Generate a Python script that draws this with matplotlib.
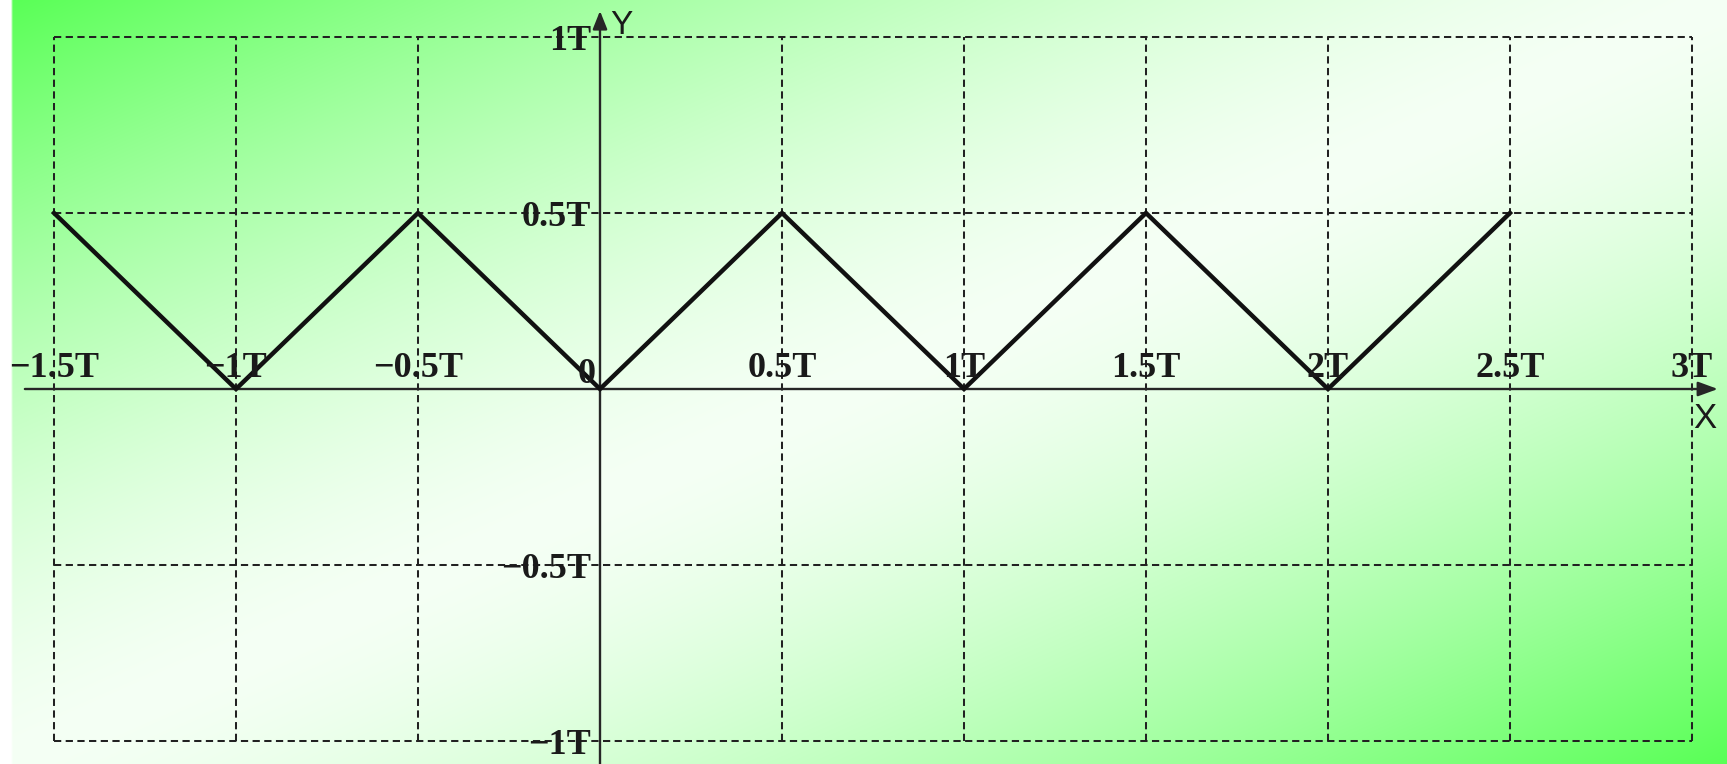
import numpy as np
import matplotlib
matplotlib.use("Agg")
import matplotlib.pyplot as plt

# ---- data ----
wave_x = [-1.5, -1.0, -0.5, 0.0, 0.5, 1.0, 1.5, 2.0, 2.5]
wave_y = [0.5, 0.0, 0.5, 0.0, 0.5, 0.0, 0.5, 0.0, 0.5]
grid_x = [-1.5, -1.0, -0.5, 0.5, 1.0, 1.5, 2.0, 2.5, 3.0]
grid_y = [-1.0, -0.5, 0.5, 1.0]
x_tick_vals = [-1.5, -1.0, -0.5, 0.5, 1.0, 1.5, 2.0, 2.5, 3.0]
x_tick_labels = ["\u22121.5T", "\u22121T", "\u22120.5T", "0.5T", "1T", "1.5T", "2T", "2.5T", "3T"]
y_tick_vals = [1.0, 0.5, -0.5, -1.0]
y_tick_labels = ["1T", "0.5T", "\u22120.5T", "\u22121T"]

W, H, DPI = 1727, 764, 100
fig = plt.figure(figsize=(W / DPI, H / DPI), dpi=DPI)

# ---- background gradient (green corners, white middle) ----
bg = fig.add_axes([0, 0, 1, 1], zorder=0)
bg.set_axis_off()
yy, xx = np.mgrid[0:H:2, 0:W:2]
u = xx / W + yy / H            # 0 top-left .. 2 bottom-right
f = np.clip(np.abs(u - 1.0), 0, 1) ** 1.5
green = np.array([88, 255, 85]) / 255.0
img = 1 - (0.06 + 0.94 * f[..., None]) * (1 - green[None, None, :])
img[:, : 11 // 2 + 1, :] = 1.0  # thin white strip on left edge
bg.imshow(img, extent=[0, 1, 0, 1], aspect="auto", origin="upper", interpolation="bilinear")
bg.set_xlim(0, 1); bg.set_ylim(0, 1)

# ---- main axes ----
ax = fig.add_axes([0, 0, 1, 1], zorder=1)
ax.patch.set_alpha(0)
ax.set_axis_off()
px_x = 364.0
px_y = 352.0
x0_px, y0_px = 600.0, 389.0
ax.set_xlim(-x0_px / px_x, (W - x0_px) / px_x)
ax.set_ylim(-(H - y0_px) / px_y, y0_px / px_y)

gcol = "#222222"
dash = (3.6, 2.2)
for gx in grid_x:
    ax.plot([gx, gx], [min(grid_y), max(grid_y)], color=gcol, lw=1.45,
            linestyle=(0, dash), zorder=2)
for gy in grid_y:
    ax.plot([min(grid_x), max(grid_x)], [gy, gy], color=gcol, lw=1.45,
            linestyle=(0, dash), zorder=2)

# axes with arrows
acol = "#262626"
x_start, x_tip = -1.58, 3.071
y_tip = 1.074
ax.annotate("", xy=(x_tip, 0), xytext=(x_start, 0),
            arrowprops=dict(arrowstyle="-|>,head_length=0.6,head_width=0.22",
                            mutation_scale=20, lw=1.7, color=acol,
                            shrinkA=0, shrinkB=0), zorder=3)
ax.annotate("", xy=(0, y_tip), xytext=(0, -1.2),
            arrowprops=dict(arrowstyle="-|>,head_length=0.55,head_width=0.22",
                            mutation_scale=20, lw=1.7, color=acol,
                            shrinkA=0, shrinkB=0), zorder=3)

# zigzag
ax.plot(wave_x, wave_y, color="#111111", lw=3.2, solid_joinstyle="miter", zorder=4)

serif = ["Liberation Serif", "DejaVu Serif"]
tfs = 26
pt = 0.72  # points per pixel at 100 dpi
for xv, lab in zip(x_tick_vals, x_tick_labels):
    ax.annotate(lab, xy=(xv, 0), xytext=(0, 12 * pt), textcoords="offset points",
                ha="center", va="baseline", fontsize=tfs, fontweight="bold",
                family=serif, color="#1a1a1a", zorder=5)
ax.annotate("0", xy=(0, 0), xytext=(-4 * pt, 6 * pt), textcoords="offset points",
            ha="right", va="baseline", fontsize=tfs, fontweight="bold",
            family=serif, color="#1a1a1a", zorder=5)
for yv, lab in zip(y_tick_vals, y_tick_labels):
    ax.annotate(lab, xy=(0, yv), xytext=(-9 * pt, 0), textcoords="offset points",
                ha="right", va="center_baseline", fontsize=tfs, fontweight="bold",
                family=serif, color="#1a1a1a", zorder=5)

sans = ["Liberation Sans", "DejaVu Sans"]
ax.annotate("Y", xy=(0, y_tip), xytext=(10 * pt, -15 * pt), textcoords="offset points",
            ha="left", va="center", fontsize=24, family=sans, color="#1a1a1a", zorder=5)
ax.annotate("X", xy=(x_tip, 0), xytext=(-13 * pt, -29 * pt), textcoords="offset points",
            ha="center", va="center", fontsize=25, family=sans, color="#1a1a1a", zorder=5)

fig.savefig("out.png", dpi=DPI)
